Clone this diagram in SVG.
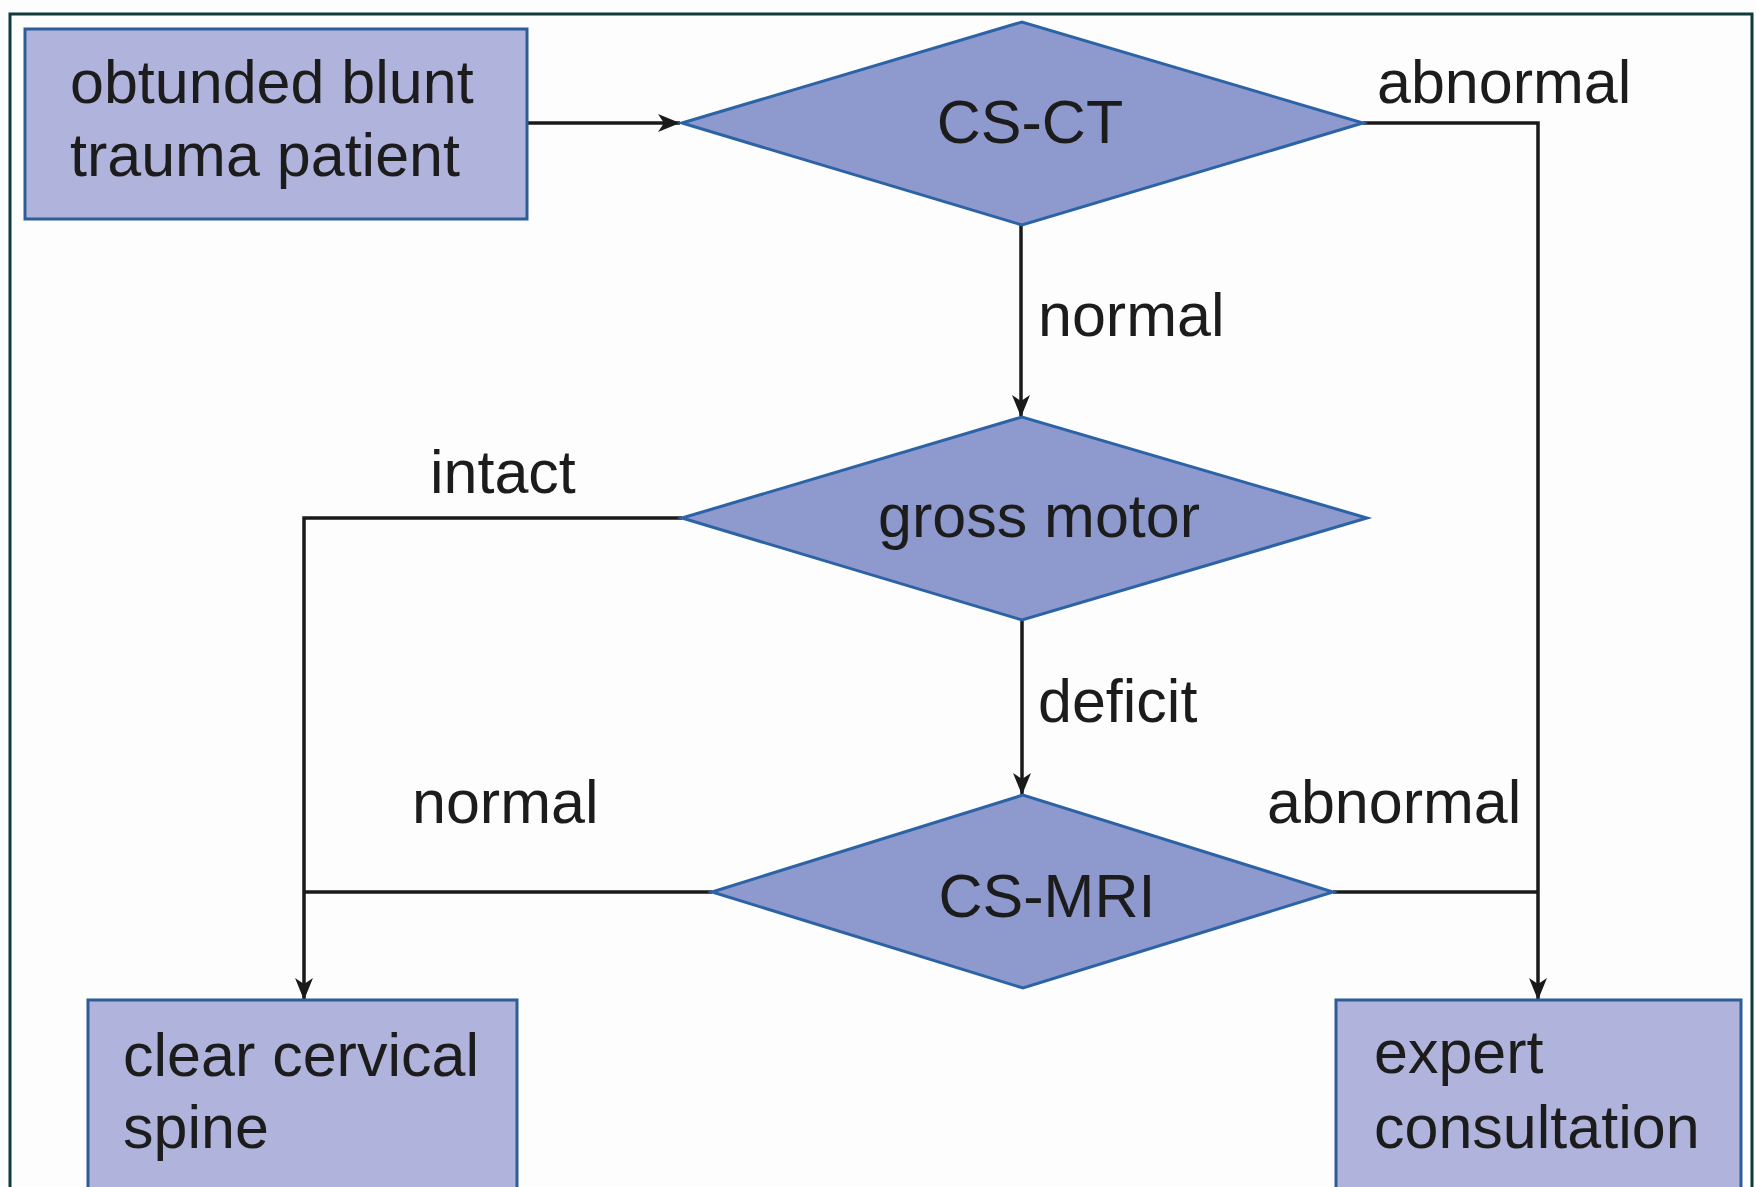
<svg xmlns="http://www.w3.org/2000/svg" width="1756" height="1187" viewBox="0 0 1756 1187">
<style>
.box{fill:#b0b4dd;stroke:#2d5d98;stroke-width:3}
.dia{fill:#8e99cd;stroke:#2c62a6;stroke-width:3}
.t{font-family:"Liberation Sans",Arial,sans-serif;font-size:61px;fill:#1c1c1c}
.c{stroke:#1a1a1a;stroke-width:3.5;fill:none}
</style>
<defs>
<marker id="ah" markerWidth="10" markerHeight="12" refX="10" refY="6" orient="auto" markerUnits="userSpaceOnUse" viewBox="0 0 10 12">
<path d="M0,0 L10,6 L0,12 L3,6 Z" fill="#1a1a1a"/>
</marker>
<marker id="ah2" markerWidth="22" markerHeight="18" refX="22" refY="9" orient="auto" markerUnits="userSpaceOnUse" viewBox="0 0 22 18">
<path d="M0,0 L22,9 L0,18 L6,9 Z" fill="#1a1a1a"/>
</marker>
</defs>
<rect x="0" y="0" width="1756" height="1187" fill="#fdfdfd"/>
<rect x="10" y="14" width="1742" height="1200" fill="none" stroke="#0f3b3b" stroke-width="3"/>
<g id="connectors">
<path class="c" d="M527,123 L680,123" marker-end="url(#ah2)"/>
<path class="c" d="M1363,123 L1538,123 L1538,1000" marker-end="url(#ah2)"/>
<path class="c" d="M1021,225 L1021,417" marker-end="url(#ah2)"/>
<path class="c" d="M682,518 L304,518 L304,1000" marker-end="url(#ah2)"/>
<path class="c" d="M1022,620 L1022,795" marker-end="url(#ah2)"/>
<path class="c" d="M712,892 L304,892"/>
<path class="c" d="M1333,892 L1538,892"/>
<text class="t" x="1377" y="103">abnormal</text>
<text class="t" x="1038" y="336">normal</text>
<text class="t" x="430" y="493">intact</text>
<text class="t" x="1038" y="722">deficit</text>
<text class="t" x="412" y="823">normal</text>
<text class="t" x="1267" y="823">abnormal</text>
</g>
<g id="start">
<rect class="box" x="25" y="29" width="502" height="190"/>
<text class="t" x="70" y="103">obtunded blunt</text>
<text class="t" x="70" y="176">trauma patient</text>
</g>
<g id="csct">
<polygon class="dia" points="682,123 1022,22 1363,123 1022,225"/>
<text class="t" x="1030" y="143" text-anchor="middle">CS-CT</text>
</g>
<g id="gross">
<polygon class="dia" points="682,518 1022,417 1367,518 1022,620"/>
<text class="t" x="1039" y="537" text-anchor="middle">gross motor</text>
</g>
<g id="csmri">
<polygon class="dia" points="712,892 1023,795 1333,892 1023,988"/>
<text class="t" x="1047" y="917" text-anchor="middle">CS-MRI</text>
</g>
<g id="clear">
<rect class="box" x="88" y="1000" width="429" height="210"/>
<text class="t" x="123" y="1076">clear cervical</text>
<text class="t" x="123" y="1148">spine</text>
</g>
<g id="expert">
<rect class="box" x="1336" y="1000" width="405" height="210"/>
<text class="t" x="1374" y="1073">expert</text>
<text class="t" x="1374" y="1148">consultation</text>
</g>
</svg>
